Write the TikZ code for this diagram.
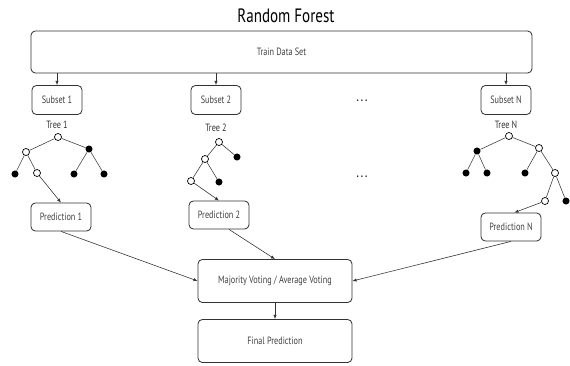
\documentclass[tikz,border=0pt]{standalone}
\usepackage{fontspec}
\setmainfont{PT Sans}[FakeStretch=0.78]
\usetikzlibrary{positioning,arrows.meta}

\begin{document}
\begin{tikzpicture}[
  x=0.03cm, y=-0.03cm,
  font=\fontsize{9}{10}\selectfont,
  line/.style={-{Latex[length=3.5pt,width=2.8pt]}, line width=0.5pt, draw=black!80},
  edge/.style={line width=0.5pt, draw=black!75},
  box/.style={draw=black!80, rounded corners=1.3mm, line width=0.7pt, text=black!75, align=center},
  subsetbox/.style={box, minimum width=1.5cm, minimum height=0.87cm},
  predbox/.style={box, minimum width=1.8cm, minimum height=0.84cm},
  votebox/.style={box, minimum width=4.62cm, minimum height=1.29cm},
  leaf/.style={circle, fill=black, inner sep=0pt, minimum size=6pt},
  split/.style={circle, draw=black, fill=white, inner sep=0pt, minimum size=6pt, line width=0.6pt},
  treelabel/.style={text=black!80},
  gap/.style={text=black!85, font=\fontsize{10}{10}\selectfont\bfseries}
]
\useasboundingbox (0,0) rectangle (570,365);

% ========== Title and data set ==========
\node[font=\fontsize{16.5}{18}\selectfont] (title) at (286,16) {Random Forest};
\node[box, minimum width=15.03cm, minimum height=1.26cm] (train) at (281.5,52) {Train Data Set};

% ========== Bootstrap subsets ==========
\node[subsetbox] (sub1) at (57,100) {Subset 1};
\node[subsetbox] (sub2) at (216,100) {Subset 2};
\node[subsetbox] (subN) at (506,100) {Subset N};
\node[gap] (dotsA) at (362,101) {.\,.\,.};

\node[treelabel] (tree1) at (57,125) {Tree 1};
\node[treelabel] (tree2) at (216,128) {Tree 2};
\node[treelabel] (treeN) at (506,125) {Tree N};

% ========== Tree 1 ==========
\node[split] (t1r)  at (58,137) {};
\node[split] (t1l)  at (26,152) {};
\node[leaf]  (t1rt) at (89,149) {};
\node[leaf]  (t1ll) at (15,174) {};
\node[split] (t1lr) at (37,173) {};
\node[leaf]  (t1rl) at (74,174) {};
\node[leaf]  (t1rr) at (104,174) {};
\draw[edge] (t1r) -- (t1l);
\draw[edge] (t1r) -- (t1rt);
\draw[edge] (t1l) -- (t1ll);
\draw[edge] (t1l) -- (t1lr);
\draw[edge] (t1rt) -- (t1rl);
\draw[edge] (t1rt) -- (t1rr);

% ========== Tree 2 ==========
\node[split] (t2r)  at (219,142) {};
\node[leaf]  (t2rt) at (237,157) {};
\node[split] (t2l)  at (205,159) {};
\node[split] (t2ll) at (191,181) {};
\node[leaf]  (t2lr) at (219,182) {};
\draw[edge] (t2r) -- (t2rt);
\draw[edge] (t2r) -- (t2l);
\draw[edge] (t2l) -- (t2ll);
\draw[edge] (t2l) -- (t2lr);

% ========== Tree N ==========
\node[split] (tNr)   at (509,136) {};
\node[leaf]  (tNl)   at (477,151) {};
\node[split] (tNrt)  at (539,148) {};
\node[leaf]  (tNll)  at (466,173) {};
\node[leaf]  (tNlr)  at (487,173) {};
\node[leaf]  (tNrl)  at (525,173) {};
\node[split] (tNrr)  at (555,173) {};
\node[split] (tNrrl) at (545,201) {};
\node[leaf]  (tNrrr) at (566,201) {};
\draw[edge] (tNr) -- (tNl);
\draw[edge] (tNr) -- (tNrt);
\draw[edge] (tNl) -- (tNll);
\draw[edge] (tNl) -- (tNlr);
\draw[edge] (tNrt) -- (tNrl);
\draw[edge] (tNrt) -- (tNrr);
\draw[edge] (tNrr) -- (tNrrl);
\draw[edge] (tNrr) -- (tNrrr);

\node[gap] (dotsB) at (362,177) {.\,.\,.};

% ========== Predictions ==========
\node[predbox] (pred1) at (61,217) {Prediction 1};
\node[predbox] (pred2) at (219,215) {Prediction 2};
\node[predbox] (predN) at (511,227) {Prediction N};

\node[votebox] (vote) at (275,281) {Majority Voting / Average Voting};
\node[votebox] (final) at (275,341) {Final Prediction};

% ========== Arrows ==========
\draw[line] (train.south -| sub1) -- (sub1.north);
\draw[line] (train.south -| sub2) -- (sub2.north);
\draw[line] (train.south -| subN) -- (subN.north);

\draw[line] (t1lr) -- (pred1.north);
\draw[line] (t2ll) -- (pred2.north);
\draw[line] (tNrrl) -- ([xshift=0.1cm]predN.north);

\draw[line] (pred1.south) -- (vote.west);
\draw[line] ([xshift=0.3cm]pred2.south) -- (vote.north);
\draw[line] (predN.south) -- (vote.east);
\draw[line] (vote) -- (final);

\end{tikzpicture}
\end{document}
